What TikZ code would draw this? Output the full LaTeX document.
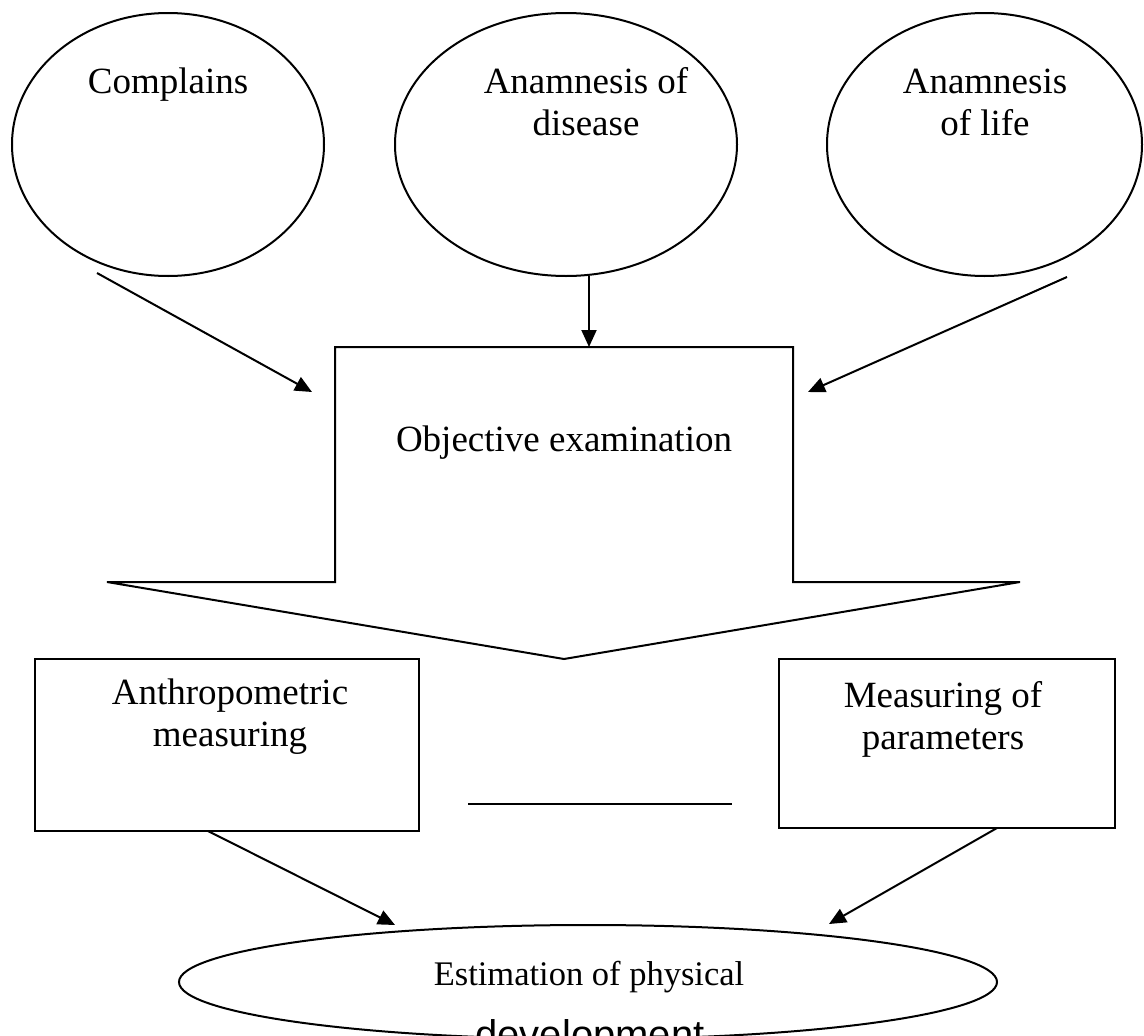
\documentclass[tikz,border=0pt]{standalone}
\usepackage{fontspec}
\setmainfont{Liberation Serif}
\newfontfamily\devfont{Liberation Sans}
\usetikzlibrary{arrows.meta,shapes.geometric}
\tikzset{>={Triangle[length=17pt,width=15pt]},every node/.style={font=\fontsize{37}{42}\selectfont},
flow/.style={line width=2pt,->},edge/.style={line width=2pt},
oval/.style={draw,ellipse,line width=2pt,inner sep=0pt},box/.style={draw,line width=2pt,inner sep=0pt},
lbl/.style={anchor=base,align=center,inner sep=0pt}}

\begin{document}
\begin{tikzpicture}[x=1pt,y=-1pt]
\clip (0,0) rectangle (1144,1036);
% top row
\node[oval,minimum width=312,minimum height=263] (complains) at (168,144.5){};\node[lbl] (complainsT) at (168,93){Complains};
\node[oval,minimum width=342,minimum height=263] (disease) at (566,144.5){};\node[lbl] (diseaseT) at (586,135){Anamnesis of\\disease};
\node[oval,minimum width=315,minimum height=263] (life) at (984.5,144.5){};\node[lbl] (lifeT) at (985,135){Anamnesis\\of life};
% block arrow
\draw[edge] (335,347)--(793,347)--(793,582)--(1020,582)--(564,659)--(107,582)--(335,582)--cycle;
\node[lbl] (objective) at (564,451){Objective examination};
\coordinate (a1) at (97,273);\coordinate (b1) at (312,392);\draw[flow] (a1)--(b1);
\coordinate (a2) at (589,276);\coordinate (b2) at (589,347);\draw[flow] (a2)--(b2);
\coordinate (a3) at (1067,277);\coordinate (b3) at (808,392);\draw[flow] (a3)--(b3);
% measuring
\node[box,minimum width=384,minimum height=172] (anthro) at (227,745){};\node[lbl] (anthroT) at (230,746){Anthropometric\\measuring};
\node[box,minimum width=336,minimum height=169] (params) at (947,743.5){};\node[lbl] (paramsT) at (943,749){Measuring of\\parameters};
\draw[edge] (468,804)--(732,804);
% estimation
\node[oval,minimum width=818,minimum height=114] (estim) at (588,982){};
\node[lbl,font=\fontsize{34.5}{40}\selectfont] (estimT) at (589,985){Estimation of physical};
\node[lbl,font=\devfont\fontsize{40}{46}\selectfont] (devT) at (590,1048){development};
\coordinate (a4) at (208,831);\coordinate (b4) at (395,925);\draw[flow] (a4)--(b4);
\coordinate (a5) at (997,828);\coordinate (b5) at (829,924);\draw[flow] (a5)--(b5);
\end{tikzpicture}
\end{document}
